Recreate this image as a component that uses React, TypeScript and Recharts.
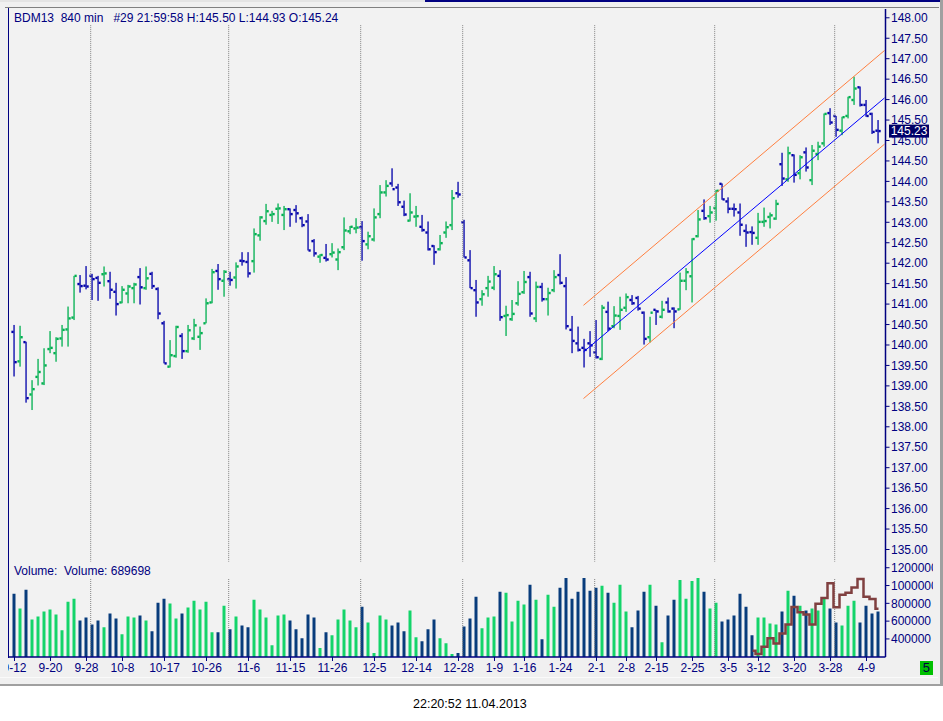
import React from "react";
import { ComposedChart, Bar, Line, XAxis, YAxis, ReferenceLine, Cell } from "recharts";

// daily (840 min) OHLC for BDM13
const opens = [
  140.32, 139.6, 140.07, 138.79, 139.22, 139.06, 139.9, 139.8, 140.16, 140.38,
  140.67, 141.49, 141.45, 141.69, 141.64, 141.73, 141.56, 141.3, 141.04, 141.26,
  141.39, 141.66, 141.39, 141.74, 141.37, 140.53, 139.47, 139.73, 140.22, 139.85,
  140.16, 140.2, 140.53, 141.04, 141.81, 141.57, 141.61, 141.65, 142.06, 142.03,
  142.05, 142.68, 143.03, 143.18, 143.33, 143.18, 143.32, 143.3, 143.1, 143.02,
  142.54, 142.16, 142.13, 142.22, 142.09, 142.39, 142.78, 142.85, 142.88, 142.46,
  142.58, 143.2, 143.73, 143.95, 143.85, 143.38, 143.04, 143.14, 142.89, 142.75,
  142.42, 142.34, 142.75, 142.93, 143.71, 143.0, 142.07, 141.34, 141.12, 141.39,
  141.4, 141.69, 140.71, 140.63, 141.02, 141.29, 141.66, 140.65, 141.42, 141.12,
  141.34, 141.71, 141.44, 140.37, 140.04, 139.93, 140.04, 139.82, 139.66, 140.81,
  140.46, 140.71, 140.91, 141.1, 141.15, 140.79, 140.19, 140.86, 140.69, 141.04,
  140.89, 140.87, 141.57, 141.68, 142.66, 143.28, 143.15, 143.35, 143.94, 143.51,
  143.33, 143.24, 142.79, 142.76, 142.62, 143.01, 143.13, 143.09, 144.42, 144.05,
  144.64, 144.2, 144.71, 144.03, 144.67, 144.93, 145.67, 145.6, 145.24, 145.6,
  145.99, 146.3, 145.87, 145.65, 145.24,
];
const highs = [
  140.49, 140.47, 140.08, 139.14, 139.66, 139.92, 140.34, 140.19, 140.49, 140.94,
  141.69, 141.71, 141.93, 141.74, 141.69, 141.92, 141.79, 141.52, 141.44, 141.47,
  141.52, 141.88, 141.92, 141.79, 141.41, 140.59, 140.12, 140.47, 140.29, 140.49,
  140.64, 140.45, 141.14, 141.86, 141.98, 141.83, 141.79, 142.02, 142.27, 142.27,
  142.85, 143.15, 143.45, 143.28, 143.46, 143.4, 143.34, 143.42, 143.14, 143.2,
  142.59, 142.22, 142.47, 142.49, 142.36, 143.12, 142.91, 143.1, 143.03, 142.77,
  143.34, 143.91, 144.03, 144.32, 143.94, 143.53, 143.71, 143.4, 143.18, 143.02,
  142.44, 142.69, 143.02, 143.79, 143.99, 143.06, 142.32, 141.59, 141.34, 141.69,
  141.93, 141.83, 140.96, 141.1, 141.56, 141.81, 141.79, 141.55, 141.52, 141.4,
  141.83, 142.22, 141.66, 140.71, 140.45, 140.15, 140.34, 140.61, 140.98, 141.06,
  140.95, 141.18, 141.26, 141.22, 141.2, 140.82, 140.69, 140.86, 141.08, 141.16,
  140.92, 141.77, 141.88, 142.61, 143.3, 143.56, 143.4, 143.79, 143.95, 143.61,
  143.46, 143.46, 142.95, 142.9, 143.23, 143.36, 143.24, 143.55, 144.7, 144.85,
  144.66, 144.64, 144.83, 144.89, 144.97, 145.66, 145.79, 145.6, 145.58, 146.07,
  146.56, 146.32, 145.99, 145.68, 145.5,
];
const lows = [
  139.23, 139.47, 138.59, 138.41, 139.01, 139.02, 139.8, 139.59, 139.96, 139.96,
  140.61, 141.28, 141.36, 141.1, 141.08, 141.43, 141.13, 140.72, 141.02, 141.02,
  141.02, 140.99, 141.35, 141.37, 140.63, 139.55, 139.45, 139.69, 139.66, 139.81,
  140.12, 139.88, 140.53, 141.02, 141.35, 141.18, 141.45, 141.38, 141.94, 141.65,
  141.77, 142.55, 142.94, 143.01, 142.96, 142.81, 142.89, 142.99, 142.88, 142.31,
  142.16, 142.01, 142.04, 142.14, 141.83, 142.32, 142.71, 142.73, 142.06, 142.34,
  142.53, 143.1, 143.63, 143.87, 143.4, 143.15, 143.02, 142.89, 142.77, 142.31,
  141.96, 142.31, 142.62, 142.81, 143.6, 142.14, 141.39, 140.69, 140.96, 141.18,
  141.34, 140.59, 140.22, 140.59, 140.96, 141.25, 140.69, 140.56, 141.06, 140.72,
  141.29, 141.48, 140.38, 139.8, 139.84, 139.45, 139.71, 139.67, 139.63, 140.34,
  140.41, 140.37, 140.81, 140.98, 140.84, 140.01, 140.06, 140.49, 140.65, 140.79,
  140.41, 140.86, 141.34, 141.04, 142.63, 143.06, 142.99, 143.04, 143.55, 143.22,
  143.14, 142.67, 142.4, 142.45, 142.45, 142.89, 142.85, 143.06, 143.89, 143.99,
  143.97, 144.05, 144.24, 143.91, 144.52, 144.85, 145.38, 145.09, 145.13, 145.54,
  145.87, 145.83, 145.58, 145.16, 144.93,
];
const closes = [
  139.58, 140.19, 138.7, 138.92, 139.34, 139.5, 139.93, 140.15, 140.37, 140.65,
  141.69, 141.44, 141.43, 141.61, 141.52, 141.75, 141.35, 141.0, 141.35, 141.43,
  141.48, 141.41, 141.63, 141.44, 140.77, 139.55, 139.75, 140.44, 139.85, 140.36,
  140.48, 140.29, 141.02, 141.78, 141.61, 141.79, 141.59, 141.92, 142.05, 141.75,
  142.71, 143.12, 143.27, 143.2, 143.34, 143.32, 143.2, 143.22, 142.93, 142.31,
  142.24, 142.2, 142.09, 142.26, 142.27, 142.8, 142.89, 142.87, 142.54, 142.66,
  143.12, 143.73, 143.89, 143.81, 143.49, 143.19, 143.24, 143.15, 142.81, 142.34,
  142.27, 142.49, 142.88, 143.59, 143.68, 142.14, 141.39, 141.04, 141.24, 141.55,
  141.73, 140.68, 140.73, 140.76, 141.25, 141.54, 140.77, 141.42, 141.12, 141.27,
  141.66, 141.52, 140.46, 140.1, 139.88, 139.88, 139.99, 139.7, 140.91, 140.4,
  140.72, 140.86, 141.17, 141.02, 140.89, 140.15, 140.79, 140.82, 140.86, 140.82,
  140.82, 141.57, 141.78, 142.59, 143.07, 143.1, 143.24, 143.77, 143.56, 143.33,
  143.32, 142.94, 142.75, 142.74, 143.01, 143.03, 143.17, 143.45, 144.07, 144.69,
  144.16, 144.59, 144.34, 144.75, 144.85, 145.65, 145.44, 145.26, 145.57, 146.06,
  146.27, 145.87, 145.6, 145.21, 145.23,
];
const volumes = [
  908000, 741000, 952000, 619000, 652000, 708000, 730000, 674000, 497000, 819000,
  852000, 608000, 641000, 563000, 608000, 530000, 686000, 630000, 452000, 652000,
  641000, 663000, 608000, 486000, 808000, 852000, 797000, 630000, 686000, 752000,
  830000, 730000, 819000, 474000, 474000, 774000, 508000, 652000, 552000, 530000,
  841000, 730000, 641000, 330000, 663000, 674000, 608000, 508000, 408000, 674000,
  641000, 297000, 474000, 441000, 619000, 730000, 608000, 530000, 763000, 586000,
  241000, 663000, 619000, 552000, 586000, 486000, 719000, 419000, 374000, 508000,
  619000, 408000, 352000, 230000, 241000, 541000, 630000, 874000, 519000, 641000,
  652000, 930000, 919000, 597000, 830000, 786000, 1008000, 841000, 397000, 897000,
  763000, 974000, 1086000, 852000, 930000, 1086000, 941000, 974000, 997000, 919000,
  808000, 1008000, 708000, 530000, 719000, 930000, 1008000, 774000, 363000, 663000,
  841000, 1063000, 852000, 1052000, 1086000, 930000, 741000, 808000, 597000, 619000,
  663000, 908000, 763000, 441000, 641000, 641000, 574000, 563000, 708000, 941000,
  886000, 774000, 719000, 741000, 719000, 852000, 741000, 586000, 552000, 774000,
  830000, 586000, 774000, 686000, 708000,
];
// brown step line in the volume pane, starts at bar 123
const OI_START = 123;
const oiValues = [
  267000, 230000, 311000, 408000, 349000, 460000, 563000, 760000, 700000, 674000,
  563000, 796000, 860000, 1027000, 755000, 897000, 919000, 978000, 1074000, 874000,
  849000, 738000,
];

const tickIdx = [0, 6, 12, 18, 25, 32, 39, 46, 53, 60, 67, 74, 80, 85, 91, 97, 102, 107, 113, 119, 124, 130, 136, 142];
const tickLabels = [
  "9-12", "9-20", "9-28", "10-8", "10-17", "10-26", "11-6", "11-15", "11-26", "12-5", "12-14", "12-28",
  "1-9", "1-16", "1-24", "2-1", "2-8", "2-15", "2-25", "3-5", "3-12", "3-20", "3-28", "4-9",
];
// month separators sit just left of the first bar of each month
const monthIdx = [12.7, 35.7, 57.7, 74.7, 96.7, 116.7, 136.7];
const priceTicks = [
  135, 135.5, 136, 136.5, 137, 137.5, 138, 138.5, 139, 139.5, 140, 140.5, 141, 141.5,
  142, 142.5, 143, 143.5, 144, 144.5, 145, 145.5, 146, 146.5, 147, 147.5, 148,
];
const volumeTicks = [400000, 600000, 800000, 1000000, 1200000];
// regression channel
const channelIdx = [94.83, 145.0];
const channelUpper = [140.97, 147.2];
const channelMid = [139.83, 146.04];
const channelLower = [138.69, 144.91];
const lastPrice = 145.23;

const NAVY = "#000080";
const UP = "#00b050";
const DOWN = "#0000aa";
const VOL_UP = "#14d46a";
const VOL_DOWN = "#083c7c";
const FONT = "'Liberation Sans', Arial, sans-serif";

const X_DOMAIN = [-1, 145.1667];
const PRICE_DOMAIN = [134.694, 148.215];
const VOL_DOMAIN = [197000, 1264500];

const rows = opens.map((o, i) => ({
  i,
  o,
  h: highs[i],
  l: lows[i],
  c: closes[i],
  range: [lows[i], highs[i]],
  vol: volumes[i],
  oi: i >= OI_START ? oiValues[i - OI_START] : null,
  up: closes[i] >= o,
}));

const labelOf = (v: number) => tickLabels[tickIdx.indexOf(v)] ?? "";

function OhlcShape(props: any) {
  const { x, y, width, height, payload } = props;
  const cx = x + width / 2;
  const span = payload.h - payload.l;
  const yAt = (p: number) => (span > 0 ? y + ((payload.h - p) / span) * height : y);
  const col = payload.up ? UP : DOWN;
  return (
    <g>
      <rect x={cx - 0.6} y={y} width={1.3} height={Math.max(height, 1)} fill={col} />
      <rect x={cx - 2.6} y={yAt(payload.o) - 1.2} width={2.2} height={2.4} fill={col} />
      <rect x={cx + 0.5} y={yAt(payload.c) - 1.2} width={2.2} height={2.4} fill={col} />
    </g>
  );
}

function PriceTag(props: any) {
  const { viewBox } = props;
  if (!viewBox) return null;
  const left = viewBox.x + viewBox.width + 3.5;
  return (
    <g>
      <rect x={left} y={viewBox.y - 6.5} width={40} height={13} fill="#000066" />
      <text x={left + 20} y={viewBox.y + 4.3} textAnchor="middle" fill="#fff" fontSize={12} fontFamily={FONT}>
        {lastPrice.toFixed(2)}
      </text>
    </g>
  );
}

const dotted = { stroke: "#808080", strokeDasharray: "1 1", strokeWidth: 1 };
const axisTick = { fill: NAVY, fontSize: 12, fontFamily: FONT };

export default function App() {
  return (
    <div style={{ position: "fixed", left: 0, top: 0, width: 943, height: 721, background: "#fff", fontFamily: FONT }}>
      {/* window */}
      <div style={{ position: "absolute", left: 0, top: 0, width: 940, height: 684, background: "#f0f0f0" }} />
      <div style={{ position: "absolute", left: 0, top: 0, width: 425, height: 2, background: "#e4e4e4" }} />
      <div style={{ position: "absolute", left: 425, top: 0, width: 518, height: 2, background: NAVY }} />
      <div style={{ position: "absolute", left: 940, top: 0, width: 3, height: 686, background: "#a0a0a0" }} />
      <div style={{ position: "absolute", left: 0, top: 684, width: 943, height: 2, background: "#a0a0a0" }} />
      <div style={{ position: "absolute", left: 0, top: 677, width: 938, height: 1, background: "#fafafa" }} />
      <div style={{ position: "absolute", left: 5, top: 7, width: 934, height: 1, background: "#808080" }} />
      {/* plot background */}
      <div style={{ position: "absolute", left: 8, top: 8, width: 878, height: 649, background: "#f2f2f2" }} />
      <div style={{ position: "absolute", left: 7.5, top: 8, width: 1.5, height: 650, background: NAVY }} />

      {/* price pane */}
      <div style={{ position: "absolute", left: 8, top: 9, width: 925, height: 553, overflow: "hidden" }}>
        <ComposedChart width={925} height={553} data={rows} margin={{ top: 0, right: 0, bottom: 0, left: 0.5 }}>
          <XAxis dataKey="i" type="number" domain={X_DOMAIN} allowDataOverflow hide />
          <YAxis
            orientation="right"
            type="number"
            domain={PRICE_DOMAIN}
            allowDataOverflow
            ticks={priceTicks}
            interval={0}
            width={47.5}
            tickSize={4}
            tickMargin={1.5}
            tick={axisTick}
            tickFormatter={(v: number) => v.toFixed(2)}
            axisLine={{ stroke: NAVY, strokeWidth: 1.5 }}
            tickLine={{ stroke: NAVY }}
          />
          {monthIdx.map((m) => (
            <ReferenceLine key={"pm" + m} segment={[{ x: m, y: 147.82 }, { x: m, y: 134.7 }]} {...dotted} />
          ))}
          <ReferenceLine
            segment={[{ x: channelIdx[0], y: channelUpper[0] }, { x: channelIdx[1], y: channelUpper[1] }]}
            stroke="#ff7f3f"
            strokeWidth={1}
          />
          <ReferenceLine
            segment={[{ x: channelIdx[0], y: channelLower[0] }, { x: channelIdx[1], y: channelLower[1] }]}
            stroke="#ff7f3f"
            strokeWidth={1}
          />
          <ReferenceLine
            segment={[{ x: channelIdx[0], y: channelMid[0] }, { x: channelIdx[1], y: channelMid[1] }]}
            stroke="#0000ff"
            strokeWidth={1}
          />
          <Bar dataKey="range" barSize={5} shape={OhlcShape} isAnimationActive={false} />
          <ReferenceLine y={lastPrice} stroke="transparent" ifOverflow="visible" label={<PriceTag />} />
        </ComposedChart>
      </div>

      {/* volume pane */}
      <div style={{ position: "absolute", left: 8, top: 556, width: 925, height: 126, overflow: "hidden" }}>
        <ComposedChart width={925} height={126} data={rows} margin={{ top: 6, right: 0, bottom: 0, left: 0.5 }}>
          <XAxis
            dataKey="i"
            type="number"
            domain={X_DOMAIN}
            allowDataOverflow
            ticks={tickIdx}
            interval={0}
            height={25}
            tickSize={4}
            tickMargin={2}
            tick={axisTick}
            tickFormatter={labelOf}
            axisLine={{ stroke: NAVY, strokeWidth: 1.5 }}
            tickLine={{ stroke: NAVY }}
          />
          <YAxis
            orientation="right"
            type="number"
            domain={VOL_DOMAIN}
            allowDataOverflow
            ticks={volumeTicks}
            interval={0}
            width={47.5}
            tickSize={4}
            tickMargin={1.5}
            tick={axisTick}
            tickFormatter={(v: number) => String(v)}
            axisLine={{ stroke: NAVY, strokeWidth: 1.5 }}
            tickLine={{ stroke: NAVY }}
          />
          {monthIdx.map((m) => (
            <ReferenceLine key={"vm" + m} segment={[{ x: m, y: 1073500 }, { x: m, y: 197000 }]} {...dotted} />
          ))}
          <Bar dataKey="vol" barSize={3} isAnimationActive={false}>
            {rows.map((r) => (
              <Cell key={r.i} fill={r.up ? VOL_UP : VOL_DOWN} />
            ))}
          </Bar>
          <Line
            dataKey="oi"
            type="step"
            stroke="#804040"
            strokeWidth={2.5}
            dot={false}
            activeDot={false}
            isAnimationActive={false}
          />
        </ComposedChart>
      </div>

      {/* texts */}
      <div style={{ position: "absolute", left: 14, top: 10.5, fontSize: 12, lineHeight: "14px", color: NAVY, whiteSpace: "pre" }}>
        {"BDM13  840 min   #29 21:59:58 H:145.50 L:144.93 O:145.24"}
      </div>
      <div style={{ position: "absolute", left: 14, top: 564, fontSize: 12, lineHeight: "14px", color: NAVY, whiteSpace: "pre" }}>
        {"Volume:  Volume: 689698"}
      </div>
      <div
        style={{
          position: "absolute",
          left: 919.5,
          top: 661,
          width: 13.5,
          height: 14,
          background: "#00c000",
          color: "#000040",
          fontSize: 13,
          lineHeight: "14px",
          textAlign: "center",
        }}
      >
        5
      </div>
      <div style={{ position: "absolute", left: 413, top: 697, fontSize: 12.5, lineHeight: "14px", color: "#000" }}>
        22:20:52 11.04.2013
      </div>
    </div>
  );
}
